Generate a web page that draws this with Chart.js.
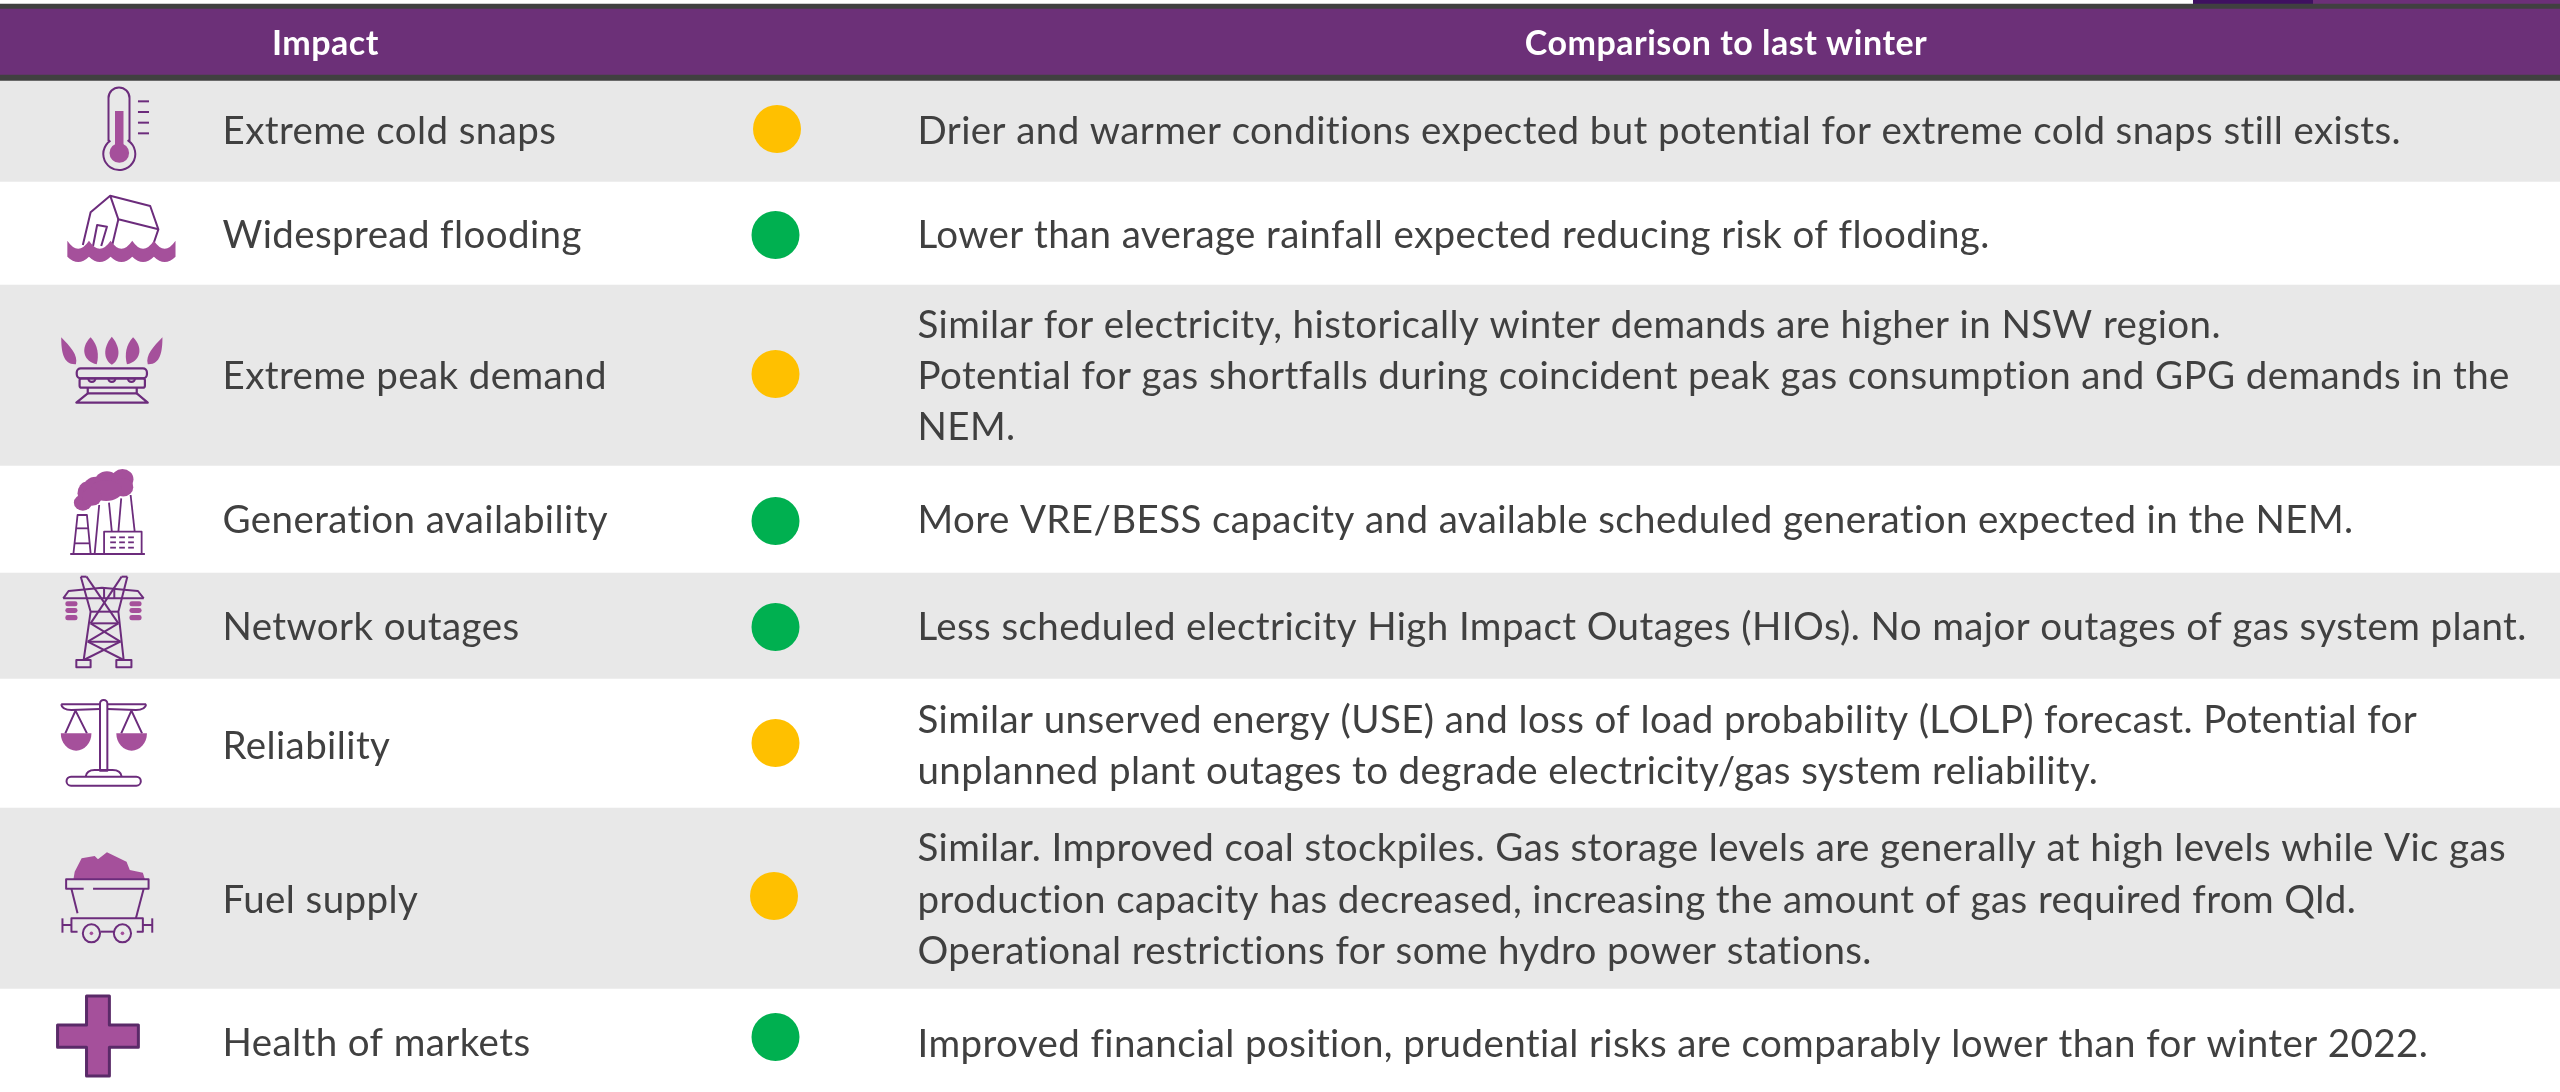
<!DOCTYPE html>
<html><head><meta charset="utf-8">
<style>html,body{margin:0;padding:0;background:#fff}canvas{display:block}</style>
<script src="https://cdn.jsdelivr.net/npm/chart.js@4"></script>
</head><body>
<canvas id="c" width="2560" height="1092"></canvas>
<script>
// ---- data ----
const headerImpact = 'Impact';
const headerComparison = 'Comparison to last winter';
const impacts = ['Extreme cold snaps','Widespread flooding','Extreme peak demand','Generation availability','Network outages','Reliability','Fuel supply','Health of markets'];
const statuses = ['amber','green','amber','green','green','amber','amber','green'];
const comparisons = [
 ['Drier and warmer conditions expected but potential for extreme cold snaps still exists.'],
 ['Lower than average rainfall expected reducing risk of flooding.'],
 ['Similar for electricity, historically winter demands are higher in NSW region.','Potential for gas shortfalls during coincident peak gas consumption and GPG demands in the','NEM.'],
 ['More VRE/BESS capacity and available scheduled generation expected in the NEM.'],
 ['Less scheduled electricity High Impact Outages (HIOs). No major outages of gas system plant.'],
 ['Similar unserved energy (USE) and loss of load probability (LOLP) forecast. Potential for','unplanned plant outages to degrade electricity/gas system reliability.'],
 ['Similar. Improved coal stockpiles. Gas storage levels are generally at high levels while Vic gas','production capacity has decreased, increasing the amount of gas required from Qld.','Operational restrictions for some hydro power stations.'],
 ['Improved financial position, prudential risks are comparably lower than for winter 2022.']
];
// ---- layout (page units) ----
const bandEdges = [4,9,75,81,182,285,466,573,679,808,989,1092];
const bandColors = ['#404040','#6C3078','#404040','#E8E8E8','#FFFFFF','#E8E8E8','#FFFFFF','#E8E8E8','#FFFFFF','#E8E8E8','#FFFFFF'];
const dotY = [129,235,374,521,627,743,896,1037];
const dotX = [777,775.5,775.5,775.5,775.5,775.5,774,775.5];
const labelBase = [144,248,389,533,640,759,913,1056];
const textBase = [[144],[248],[338,389,440],[533],[640],[733,784],[861,913,964],[1057]];
const statusColor = {amber:'#FFC000',green:'#00B050'};
const PURPLE='#6C2C7C', FILL='#A5509B', TEXT='#404040';
const FONT='Lato', BODY=38.5, BODY_SP='0.4px', HEAD=34, HEAD_SP='0.5px';

// helpers working in the coordinates
const zx=x=>x/2.45;
function line(ctx,y0,pts,close){ctx.beginPath();pts.forEach((p,i)=>{const X=zx(p[0]),Y=y0+p[1]/3;i?ctx.lineTo(X,Y):ctx.moveTo(X,Y)});if(close)ctx.closePath();}
function sl(ctx,y0,pts,close){line(ctx,y0,pts,close);ctx.stroke();}
function fl(ctx,y0,pts){line(ctx,y0,pts,true);ctx.fill();}
function ell(ctx,y0,x,y,rx,ry,fill){ctx.beginPath();ctx.ellipse(zx(x),y0+y/3,rx,ry,0,0,Math.PI*2);fill?ctx.fill():ctx.stroke();}
function rr(ctx,y0,x1,y1,x2,y2,r){ctx.beginPath();ctx.roundRect(zx(x1),y0+y1/3,zx(x2)-zx(x1),(y2-y1)/3,r);}

const icons=[
 function thermo(c){const y0=0;
  c.lineWidth=2;
  c.beginPath();c.moveTo(108.5,141);c.lineTo(108.5,98);c.arc(119,98,10.5,Math.PI,0);c.lineTo(129.5,141);
  c.arc(119.3,154,16,-Math.PI/3.2,Math.PI+Math.PI/3.2,false);c.stroke();
  c.fillRect(115,111,8.5,38);
  c.beginPath();c.arc(119.3,153,9.8,0,Math.PI*2);c.fill();
  [304,336,368,400].forEach(y=>sl(c,y0,[[338,y],[365,y]]));
 },
 function house(c){const y=0;c.lineWidth=2;
  sl(c,y,[[203,735],[222,637],[270,587],[368,618],[388,688],[375,735]]);
  sl(c,y,[[270,587],[290,658],[388,688]]);
  sl(c,y,[[290,658],[275,735]]);
  sl(c,y,[[228,738],[238,675],[262,680],[248,738]]);
  c.beginPath();const xs=[165,218,271,324,377,430];
  c.moveTo(zx(165),y+722/3);
  for(let i=1;i<6;i++)c.quadraticCurveTo(zx((xs[i]+xs[i-1])/2),y+770/3,zx(xs[i]),y+722/3);
  c.lineTo(zx(430),y+770/3);
  for(let i=4;i>=0;i--)c.quadraticCurveTo(zx((xs[i]+xs[i+1])/2),y+802/3,zx(xs[i]),y+770/3);
  c.closePath();c.fill();
 },
 function burner(c){const y=280;c.lineWidth=2.2;
  const leaf=(m,a,b,d,e,f,g)=>{const X=v=>zx(m?548-v:v),Y=v=>y+v/3;
   c.beginPath();c.moveTo(X(a[0]),Y(a[1]));
   c.bezierCurveTo(X(d[0]),Y(d[1]),X(e[0]),Y(e[1]),X(b[0]),Y(b[1]));
   c.bezierCurveTo(X(f[0]),Y(f[1]),X(g[0]),Y(g[1]),X(a[0]),Y(a[1]));c.closePath();c.fill();};
  [0,1].forEach(m=>{
   leaf(m,[150,172],[186,253],[150,215],[155,255],[192,225],[172,200]);
   leaf(m,[222,172],[237,253],[195,205],[205,245],[243,225],[240,195]);
  });
  leaf(0,[274,170],[274,254],[250,205],[255,240],[293,240],[298,205]);
  rr(c,y,188,265,360,295,4);c.stroke();
  rr(c,y,195,295,355,323,2);c.stroke();
  sl(c,y,[[215,323],[215,340],[335,340],[335,323]]);
  sl(c,y,[[215,340],[187,368],[362,368],[335,340]]);
  [225,274,322].forEach(x=>{c.beginPath();c.arc(zx(x),y+295/3,3.6,0,Math.PI);c.stroke();});
 },
 function factory(c){const y=280;c.lineWidth=1.8;
  [[203,668,9,7],[212,640,9,10],[235,625,13,10],[262,605,12,9],[300,598,11,9],[302,622,10,8],[260,632,16,9],[225,650,10,8]].forEach(e=>ell(c,y,e[0],e[1],e[2],e[3]*1.15,true));
  sl(c,y,[[180,820],[190,705],[213,705],[222,820]]);
  sl(c,y,[[186,745],[217,745]]);sl(c,y,[[182,790],[220,790]]);
  sl(c,y,[[232,820],[243,675]]);sl(c,y,[[267,668],[274,755]]);sl(c,y,[[297,655],[290,755]]);sl(c,y,[[320,645],[330,755]]);
  sl(c,y,[[255,820],[255,755],[347,755],[347,820]]);
  sl(c,y,[[172,822],[355,822]]);
  [772,787,803].forEach(v=>[270,292,314].forEach(x=>sl(c,y,[[x,v],[x+14,v]])));
 },
 function tower(c){const y=560;c.lineWidth=2;
  sl(c,y,[[155,115],[352,115]]);
  sl(c,y,[[155,115],[168,93],[250,83],[338,93],[352,115]]);
  sl(c,y,[[255,83],[255,115]]);sl(c,y,[[280,83],[280,115]]);
  sl(c,y,[[198,50],[212,50]]);sl(c,y,[[298,50],[312,50]]);
  sl(c,y,[[198,50],[222,155],[205,300]]);sl(c,y,[[312,50],[290,155],[303,300]]);
  sl(c,y,[[212,50],[290,190]]);sl(c,y,[[298,50],[222,190]]);
  sl(c,y,[[222,155],[290,155]]);sl(c,y,[[222,190],[290,190]]);sl(c,y,[[215,245],[295,245]]);
  sl(c,y,[[222,190],[295,245]]);sl(c,y,[[290,190],[215,245]]);
  sl(c,y,[[215,245],[303,300]]);sl(c,y,[[295,245],[205,300]]);
  c.strokeRect(zx(187),y+300/3,zx(222)-zx(187),22/3);c.strokeRect(zx(285),y+300/3,zx(322)-zx(285),22/3);
  [[160,190],[317,347]].forEach(a=>[[124,139],[144,159],[165,181]].forEach(b=>{rr(c,y,a[0],b[0],a[1],b[1],2.4);c.fill();}));
 },
 function scales(c){const y=560;c.lineWidth=2;
  sl(c,y,[[150,433],[245,433]]);sl(c,y,[[263,433],[358,433]]);
  c.beginPath();c.moveTo(zx(150),y+433/3);c.quadraticCurveTo(zx(152),y+450/3,zx(175),y+450/3);c.lineTo(zx(245),y+447/3);c.stroke();
  c.beginPath();c.moveTo(zx(358),y+433/3);c.quadraticCurveTo(zx(356),y+450/3,zx(333),y+450/3);c.lineTo(zx(263),y+447/3);c.stroke();
  rr(c,y,245,420,263,632,[3.5,3.5,0,0]);c.stroke();
  sl(c,y,[[160,520],[185,452],[213,520]]);sl(c,y,[[297,520],[322,452],[348,520]]);
  [[149,224],[285,360]].forEach(a=>{const cx=zx((a[0]+a[1])/2),rx=(zx(a[1])-zx(a[0]))/2;
   c.beginPath();c.ellipse(cx,y+520/3,rx,52/3,0,0,Math.PI);c.closePath();c.fill();});
  rr(c,y,163,650,345,677,4.5);c.stroke();
  c.beginPath();c.moveTo(zx(210),y+650/3);c.quadraticCurveTo(zx(212),y+630/3,zx(232),y+630/3);c.lineTo(zx(276),y+630/3);c.quadraticCurveTo(zx(296),y+630/3,zx(298),y+650/3);c.stroke();
 },
 function cart(c){const y=820;c.lineWidth=2;
  fl(c,y,[[180,178],[183,155],[200,115],[232,108],[240,118],[262,97],[310,125],[318,150],[350,158],[355,178]]);
  sl(c,y,[[205,206],[162,206],[162,178],[364,178],[364,206],[228,206]]);
  sl(c,y,[[175,206],[190,280]]);sl(c,y,[[352,206],[333,295]]);
  sl(c,y,[[190,335],[175,335],[175,295],[350,295],[350,335],[335,335]]);
  sl(c,y,[[153,295],[153,338]]);sl(c,y,[[153,315],[175,315]]);
  sl(c,y,[[373,295],[373,338]]);sl(c,y,[[350,315],[373,315]]);
  sl(c,y,[[246,335],[280,335]]);
  [224,300].forEach(x=>{ell(c,y,x,340,8.6,9);ell(c,y,x,340,1.8,1.8,true);});
 },
 function plus(c){const y=820;c.lineWidth=3;c.strokeStyle='#5A2A68';
  line(c,y,[[212,528],[268,528],[268,615],[339,615],[339,682],[268,682],[268,768],[212,768],[212,682],[141,682],[141,615],[212,615]],true);
  c.fill();c.stroke();
 }
];

const tablePlugin={
 id:'table',
 beforeDatasetsDraw(chart){
  const c=chart.ctx,x=chart.scales.x,y=chart.scales.y;
  c.save();
  c.fillStyle='#3F1060';c.fillRect(x.getPixelForValue(2193),y.getPixelForValue(0),120,4);
  c.fillStyle='#6C3078';c.fillRect(x.getPixelForValue(2313),y.getPixelForValue(0),247,4);
  c.restore();
 },
 afterDatasetsDraw(chart){
  const c=chart.ctx,x=chart.scales.x,y=chart.scales.y;
  c.save();
  c.textBaseline='alphabetic';c.textAlign='left';
  c.font='700 '+HEAD+'px '+FONT;c.letterSpacing=HEAD_SP;c.fillStyle='#FFFFFF';
  c.fillText(headerImpact,x.getPixelForValue(272),y.getPixelForValue(55));
  c.textAlign='center';
  c.fillText(headerComparison,x.getPixelForValue(1726),y.getPixelForValue(55));
  c.textAlign='left';
  c.font='400 '+BODY+'px '+FONT;c.letterSpacing=BODY_SP;c.fillStyle=TEXT;
  impacts.forEach((t,i)=>c.fillText(t,x.getPixelForValue(222.5),y.getPixelForValue(labelBase[i])));
  comparisons.forEach((ls,i)=>ls.forEach((t,j)=>c.fillText(t,x.getPixelForValue(917.5),y.getPixelForValue(textBase[i][j]))));
  icons.forEach(f=>{c.save();c.strokeStyle=PURPLE;c.fillStyle=FILL;c.lineJoin='round';f(c);c.restore();});
  c.restore();
 }
};

new Chart(document.getElementById('c'),{
 type:'bar',
 data:{datasets:[
  {type:'scatter',order:0,label:'Status',
   data:statuses.map((s,i)=>({x:dotX[i],y:dotY[i]})),
   backgroundColor:statuses.map(s=>statusColor[s]),borderWidth:0,pointRadius:24,pointHoverRadius:24},
  {type:'bar',order:1,label:'Rows',
   data:bandColors.map((_,i)=>({x:1280,y:[bandEdges[i],bandEdges[i+1]]})),
   backgroundColor:bandColors,borderWidth:0,barThickness:2560,grouped:false}
 ]},
 options:{
  responsive:false,animation:false,devicePixelRatio:1,
  layout:{padding:0,autoPadding:false},
  plugins:{legend:{display:false},tooltip:{enabled:false},title:{display:false}},
  scales:{
   x:{type:'linear',min:0,max:2560,display:false,offset:false},
   y:{type:'linear',min:0,max:1092,reverse:true,display:false}
  }
 },
 plugins:[tablePlugin]
});
</script>
</body></html>
